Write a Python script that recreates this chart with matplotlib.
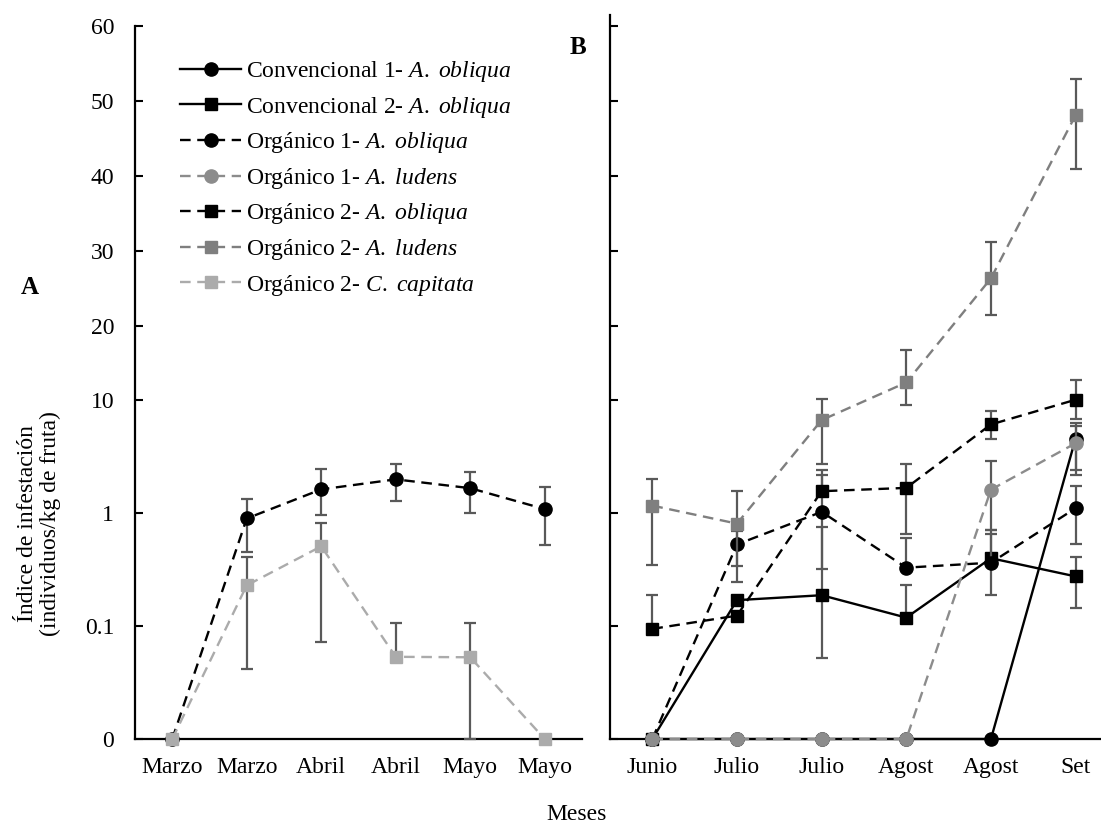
import numpy as np
import matplotlib
matplotlib.use('Agg')
import matplotlib.pyplot as plt
from matplotlib.lines import Line2D

plt.rcParams['font.family'] = ['Liberation Serif', 'DejaVu Serif']
plt.rcParams['mathtext.fontset'] = 'custom'
plt.rcParams['mathtext.rm'] = 'Liberation Serif'
plt.rcParams['mathtext.it'] = 'Liberation Serif:italic'

nan = np.nan

# panel A (marzo - mayo)
months_a = ['Marzo', 'Marzo', 'Abril', 'Abril', 'Mayo', 'Mayo']
org1_obl_a = [0, 0.90, 1.63, 2.0, 1.67, 1.09]
org1_obl_a_lo = [nan, 0.45, 0.96, 1.28, 1.0, 0.52]
org1_obl_a_hi = [nan, 1.35, 2.45, 2.71, 2.32, 1.70]
org2_cap_a = [0, 0.23, 0.51, 0.0535, 0.053, 0]
org2_cap_a_lo = [nan, 0.042, 0.072, 0.0535, 0, nan]
org2_cap_a_hi = [nan, 0.41, 0.82, 0.106, 0.106, nan]

# panel B (junio - setiembre)
months_b = ['Junio', 'Julio', 'Julio', 'Agost', 'Agost', 'Set']
conv1_b = [0, 0, 0, 0, 0, 4.6]
conv1_b_lo = [nan, nan, nan, nan, nan, 2.4]
conv1_b_hi = [nan, nan, nan, nan, nan, 6.3]
conv2_b = [0, 0.17, 0.188, 0.119, 0.40, 0.276]
conv2_b_lo = [nan, nan, 0.052, 0.119, 0.19, 0.145]
conv2_b_hi = [nan, nan, 0.76, 0.23, 0.65, 0.41]
org1_obl_b = [0, 0.53, 1.03, 0.33, 0.365, 1.11]
org1_obl_b_lo = [nan, 0.246, 0.32, 0.33, 0.365, 0.53]
org1_obl_b_hi = [nan, 0.70, 2.2, 0.60, 0.71, 1.74]
org1_lud_b = [0, 0, 0, 0, 1.62, 4.18]
org1_lud_b_lo = [nan, nan, nan, nan, 0.71, 2.2]
org1_lud_b_hi = [nan, nan, nan, nan, 2.9, 6.0]
org2_obl_b = [0.0946, 0.124, 1.57, 1.68, 6.13, 10.1]
org2_obl_b_lo = [0.0946, nan, 1.57, 0.66, 4.6, 6.9]
org2_obl_b_hi = [0.188, nan, 2.4, 2.75, 8.0, 12.7]
org2_lud_b = [1.17, 0.81, 6.7, 12.4, 26.3, 48.1]
org2_lud_b_lo = [0.35, 0.34, 2.75, 9.2, 21.4, 40.9]
org2_lud_b_hi = [2.03, 1.57, 10.2, 16.7, 31.2, 52.9]

yticks = [0, 0.1, 1, 10, 20, 30, 40, 50, 60]
ytick_labels = ['0', '0.1', '1', '10', '20', '30', '40', '50', '60']

# axis: 0 / 0.1 / 1 / 10 evenly (log), linear above 10
K = 7.5 / 113


def fwd(v):
    v = np.asarray(v, dtype=float)
    low = np.log10(np.clip(v, 0.01, 10)) + 2
    high = 3 + (v - 10) * K
    return np.where(v > 10, high, low)


def inv(p):
    p = np.asarray(p, dtype=float)
    low = 10 ** (np.clip(p, -10, 3) - 2)
    high = 10 + (p - 3) / K
    return np.where(p > 3, high, low)


BLACK = '#000000'
GRAY1 = '#8c8c8c'
GRAY2 = '#7f7f7f'
LIGHT = '#ababab'
ERR = '#595959'
DASH = (0, (4.5, 2.8))
FS = 17

series_style = {
    'Convencional 1- $\\mathit{A.\\ obliqua}$': dict(color=BLACK, marker='o', ls='-'),
    'Convencional 2- $\\mathit{A.\\ obliqua}$': dict(color=BLACK, marker='s', ls='-'),
    'Orgánico 1- $\\mathit{A.\\ obliqua}$': dict(color=BLACK, marker='o', ls=DASH),
    'Orgánico 1- $\\mathit{A.\\ ludens}$': dict(color=GRAY1, marker='o', ls=DASH),
    'Orgánico 2- $\\mathit{A.\\ obliqua}$': dict(color=BLACK, marker='s', ls=DASH),
    'Orgánico 2- $\\mathit{A.\\ ludens}$': dict(color=GRAY2, marker='s', ls=DASH),
    'Orgánico 2- $\\mathit{C.\\ capitata}$': dict(color=LIGHT, marker='s', ls=DASH),
}
labels = list(series_style.keys())


def msize(marker):
    return 9.5 if marker == 'o' else 8.8


def draw(ax, vals, lo, hi, label, z):
    st = series_style[label]
    x = np.arange(len(vals))
    vals = np.asarray(vals, float)
    lo = np.asarray(lo, float)
    hi = np.asarray(hi, float)
    m = np.isfinite(lo)
    if m.any():
        ax.errorbar(x[m], vals[m], yerr=[vals[m] - lo[m], hi[m] - vals[m]], fmt='none',
                    ecolor=ERR, elinewidth=1.6, capsize=4.5, capthick=1.6,
                    zorder=z, clip_on=False)
    ax.plot(x, vals, color=st['color'], ls=st['ls'], marker=st['marker'], lw=1.7,
            ms=msize(st['marker']), mfc=st['color'], mec=st['color'],
            zorder=z + 0.5, clip_on=False)


fig = plt.figure(figsize=(11.01, 8.24), dpi=100)
W, H = 1101, 824
ax_a = fig.add_axes([135 / W, 1 - 739 / H, (582 - 135) / W, (739 - 26) / H])
ax_b = fig.add_axes([610 / W, 1 - 739 / H, (1101 - 610) / W, (739 - 15) / H])

draw(ax_a, org1_obl_a, org1_obl_a_lo, org1_obl_a_hi, labels[2], 3)
draw(ax_a, org2_cap_a, org2_cap_a_lo, org2_cap_a_hi, labels[6], 4)

draw(ax_b, conv1_b, conv1_b_lo, conv1_b_hi, labels[0], 3)
draw(ax_b, conv2_b, conv2_b_lo, conv2_b_hi, labels[1], 4)
draw(ax_b, org1_obl_b, org1_obl_b_lo, org1_obl_b_hi, labels[2], 5)
draw(ax_b, org1_lud_b, org1_lud_b_lo, org1_lud_b_hi, labels[3], 6)
draw(ax_b, org2_obl_b, org2_obl_b_lo, org2_obl_b_hi, labels[4], 7)
draw(ax_b, org2_lud_b, org2_lud_b_lo, org2_lud_b_hi, labels[5], 8)

for ax, months, xr in [(ax_a, months_a, 5.5), (ax_b, months_b, 5.3)]:
    ax.set_yscale('function', functions=(fwd, inv))
    ax.set_xlim(-0.5, xr)
    ax.set_xticks(range(len(months)))
    ax.set_xticklabels(months, fontsize=FS)
    ax.tick_params(axis='x', length=0, pad=13)
    ax.tick_params(axis='y', direction='in', length=6, width=1.5, pad=15, labelsize=FS)
    ax.set_yticks(yticks)
    ax.yaxis.set_minor_locator(matplotlib.ticker.NullLocator())
    for s in ['top', 'right']:
        ax.spines[s].set_visible(False)
    for s in ['left', 'bottom']:
        ax.spines[s].set_linewidth(1.6)
    ax.patch.set_alpha(0)

ax_a.set_yticklabels(ytick_labels)
ax_a.set_ylim(0, 60)
ax_b.set_yticklabels([''] * len(yticks))
ax_b.set_ylim(0, float(inv(fwd(60) + 11 / 113)))

handles = []
for lab in labels:
    st = series_style[lab]
    handles.append(Line2D([], [], color=st['color'], ls=st['ls'], marker=st['marker'], lw=1.7,
                          ms=msize(st['marker']), mfc=st['color'], mec=st['color']))
ax_a.legend(handles, labels, loc='upper left', bbox_to_anchor=(180 / W, 1 - 59 / H),
            bbox_transform=fig.transFigure, frameon=False, fontsize=FS,
            handlelength=2.6, handletextpad=0.2, labelspacing=0.45,
            borderpad=0, borderaxespad=0)

fig.text(30 / W, 1 - 287 / H, 'A', fontsize=18, fontweight='bold', ha='center', va='center')
fig.text(578 / W, 1 - 48 / H, 'B', fontsize=18, fontweight='bold', ha='center', va='center')
fig.text(577 / W, 1 - 815 / H, 'Meses', fontsize=FS, ha='center', va='center')
fig.text(39 / W, 1 - 524 / H, 'Índice de infestación\n(individuos/kg de fruta)', fontsize=FS,
         rotation=90, ha='center', va='center', multialignment='center', linespacing=1.15)

fig.savefig('out.png', dpi=100)
